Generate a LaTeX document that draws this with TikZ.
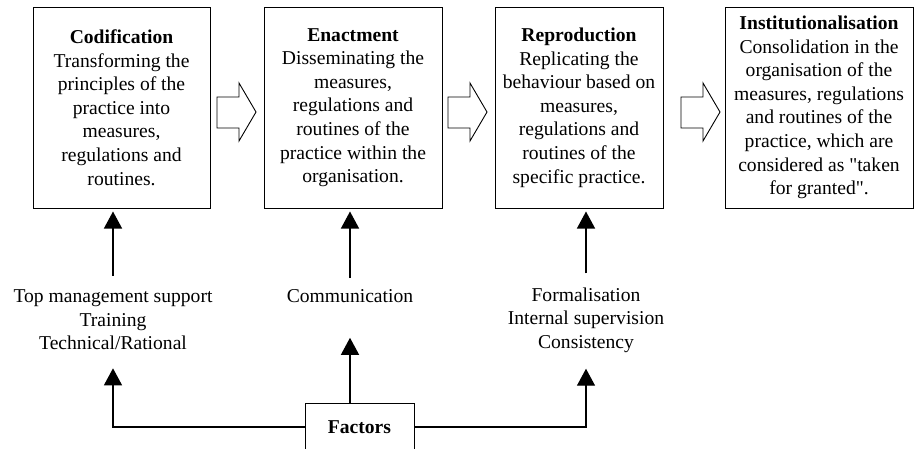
\documentclass[tikz,border=0pt]{standalone}
\usepackage{fontspec}
\setmainfont{Liberation Serif}[Ligatures=TeXOff]
\usetikzlibrary{arrows.meta}
\begin{document}
\begin{tikzpicture}[x=1pt,y=-1pt,
  every node/.style={font=\fontsize{19.6}{23.6}\selectfont, align=center, inner sep=0pt},
  stage/.style={draw, line width=1pt, minimum height=201pt},
  factorbox/.style={draw, line width=1pt, minimum width=109pt, minimum height=55pt, anchor=north west, text depth=0pt},
  conn/.style={line width=1.3pt, -{Triangle[width=18pt,length=17pt]}},
  blockarrow/.style={draw, line width=0.9pt, fill=white, line join=miter}]
\clip (0,0) rectangle (914,448);
\fill[white] (0,0) rectangle (914,448);

\node[stage, minimum width=177pt] (b1) at (121.5,107.5)
  {\textbf{Codification}\\Transforming the\\principles of the\\practice into\\measures,\\regulations and\\routines.};
\node[stage, minimum width=178pt] (b2) at (353,107.5)
  {\textbf{Enactment}\\Disseminating the\\measures,\\regulations and\\routines of the\\practice within the\\organisation.};
\node[stage, minimum width=168pt] (b3) at (579,107.5)
  {\textbf{Reproduction}\\Replicating the\\behaviour based on\\measures,\\regulations and\\routines of the\\specific practice.};
\node[stage, minimum width=188pt] (b4) at (819,107.5)
  {\textbf{Institutionalisation}\\Consolidation in the\\organisation of the\\measures, regulations\\and routines of the\\practice, which are\\considered as "taken\\for granted".};

% block arrows
\foreach \x in {217,448,681}{
  \draw[blockarrow] (\x,97) -- (\x+22,97) -- (\x+22,83) -- (\x+39,112) -- (\x+22,141) -- (\x+22,128) -- (\x,128) -- cycle;
}

% factor labels
\node (l1) at (113,320) {Top management support\\Training\\Technical/Rational};
\node (l2) at (350,296) {Communication};
\node (l3) at (586,320) {Formalisation\\Internal supervision\\Consistency};

\node[factorbox] (fac) at (305,403) {};
\node (factxt) at (359.5,427) {\textbf{Factors}};

% arrows from labels to stages
\draw[conn, shorten <=14pt, shorten >=3pt] (l1.north) -- (l1.north |- b1.south);
\draw[conn, shorten <=11pt, shorten >=3pt] (l2.north) -- (l2.north |- b2.south);
\draw[conn, shorten <=14pt, shorten >=3pt] (l3.north) -- (l3.north |- b3.south);

% arrows from factors
\coordinate (fl) at (fac.west |- factxt);
\coordinate (fr) at (fac.east |- factxt);
\draw[conn] (fl) -| ([yshift=-18pt]l1.south);
\draw[conn] (fr) -| ([yshift=-16pt]l3.south);
\draw[conn] (l2.south |- fac.north) -- ([yshift=-35pt]l2.south);
\end{tikzpicture}
\end{document}
